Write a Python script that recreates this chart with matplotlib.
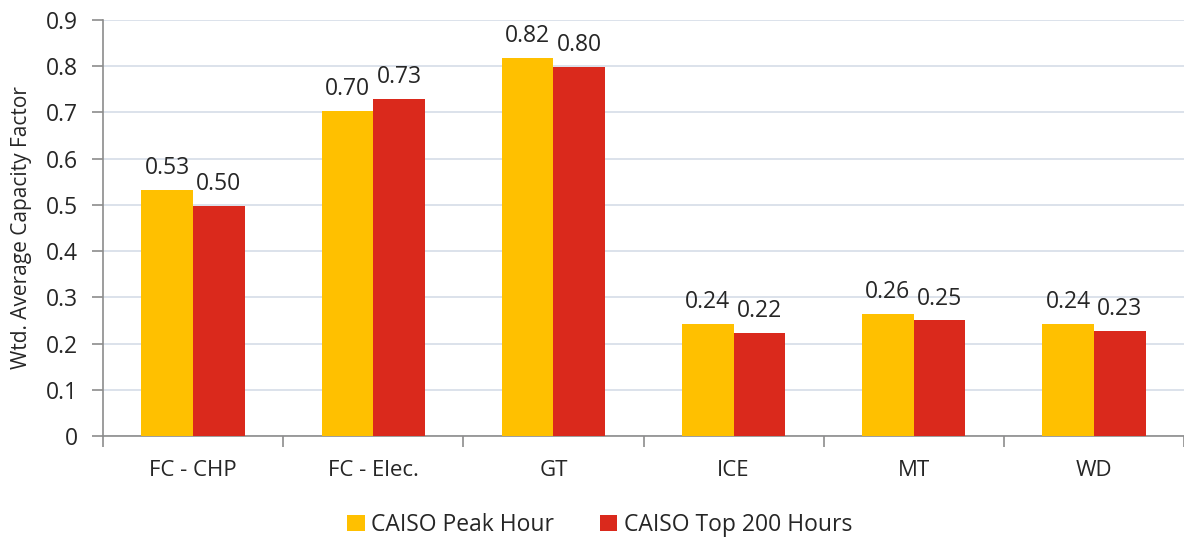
import matplotlib
matplotlib.use("Agg")
import matplotlib.pyplot as plt
import numpy as np

plt.rcParams['font.family'] = ['Open Sans', 'DejaVu Sans']

categories = ["FC - CHP", "FC - Elec.", "GT", "ICE", "MT", "WD"]
peak_hour = [0.532, 0.703, 0.818, 0.242, 0.264, 0.242]
top_200_hours = [0.498, 0.729, 0.799, 0.223, 0.250, 0.227]
series_names = ["CAISO Peak Hour", "CAISO Top 200 Hours"]
y_ticks = [0, 0.1, 0.2, 0.3, 0.4, 0.5, 0.6, 0.7, 0.8, 0.9]
y_tick_labels = ["0", "0.1", "0.2", "0.3", "0.4", "0.5", "0.6", "0.7", "0.8", "0.9"]

yellow = "#FFC000"
red = "#DA291C"
text_color = "#262626"

fig = plt.figure(figsize=(11.84, 5.39), dpi=100)
ax = fig.add_axes([103 / 1184, 1 - 436 / 539, (1184 - 103) / 1184, 416 / 539])

x = np.arange(len(categories))
w = 0.287
b1 = ax.bar(x - w / 2, peak_hour, w, color=yellow, label=series_names[0], zorder=3)
b2 = ax.bar(x + w / 2, top_200_hours, w, color=red, label=series_names[1], zorder=3)

for bars, vals in ((b1, peak_hour), (b2, top_200_hours)):
    for rect, v in zip(bars, vals):
        ax.annotate(f"{v:.2f}", (rect.get_x() + rect.get_width() / 2, v),
                    xytext=(0, 7), textcoords="offset points",
                    ha="center", va="bottom", fontsize=16.5, color=text_color)

ax.set_xlim(-0.5, len(categories) - 0.5)
ax.set_ylim(0, 0.9)
ax.set_yticks(y_ticks)
ax.set_yticklabels(y_tick_labels)
ax.yaxis.grid(True, color="#D5DDE8", linewidth=1.2, zorder=0)
ax.set_axisbelow(True)

# category labels centred, tick marks at category boundaries
ax.set_xticks(np.arange(len(categories) + 1) - 0.5)
ax.set_xticklabels([])
ax.set_xticks(x, minor=True)
ax.set_xticklabels(categories, minor=True)
ax.tick_params(axis="x", which="minor", length=0, pad=17, labelsize=16, labelcolor=text_color)
ax.tick_params(axis="x", which="major", length=8, color="#8C8C8C", width=1.2)
ax.tick_params(axis="y", length=8, color="#8C8C8C", width=1.2, labelsize=16.5, labelcolor=text_color, pad=10)

for s in ("top", "right"):
    ax.spines[s].set_visible(False)
for s in ("left", "bottom"):
    ax.spines[s].set_color("#8C8C8C")
    ax.spines[s].set_linewidth(1.2)

ax.set_ylabel("Wtd. Average Capacity Factor", fontsize=15, color=text_color, labelpad=10)

fig.legend(handles=[b1, b2], labels=series_names, loc="center", bbox_to_anchor=(600 / 1184, 1 - 525 / 539),
           ncol=2, frameon=False, fontsize=16.5, handlelength=0.75, handleheight=0.75,
           handletextpad=0.3, columnspacing=2.0, labelcolor=text_color)

fig.savefig("out.png", dpi=100)
